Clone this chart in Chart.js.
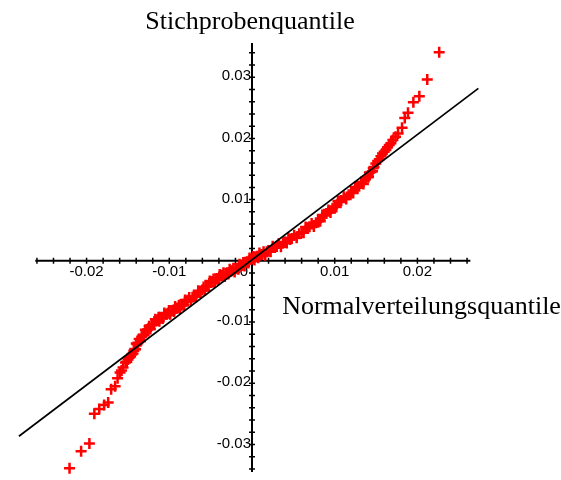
<!DOCTYPE html>
<html>
<head>
<meta charset="utf-8">
<script src="https://cdn.jsdelivr.net/npm/chart.js@4.4.0/dist/chart.umd.min.js"></script>
<style>
  body { margin: 0; background: #fff; }
</style>
</head>
<body>
<canvas id="qq" width="561" height="480"></canvas>
<script>
// Normalverteilungsquantile (x) und Stichprobenquantile (y)
const normalQuantiles = [
  -0.02206, -0.02066, -0.01966, -0.01906, -0.01847, -0.01787, -0.01739, -0.01703,
  -0.01655, -0.01625, -0.01595, -0.01559, -0.01529, -0.01499, -0.01469, -0.01439,
  -0.01418, -0.01399, -0.01379, -0.01349, -0.01319, -0.01289, -0.01259, -0.01229,
  -0.01199, -0.01169, -0.01139, -0.01120, -0.01100, -0.01060, -0.01019, -0.00989,
  -0.00959, -0.00929, -0.00899, -0.00869, -0.00839, -0.00809, -0.00779, -0.00739,
  -0.00699, -0.00650, -0.00600, -0.00570, -0.00540, -0.00510, -0.00480, -0.00450,
  -0.00420, -0.00390, -0.00360, -0.00330, -0.00300, -0.00270, -0.00240, -0.00210,
  -0.00180, -0.00150, -0.00120, -0.00090, -0.00060, -0.00030, 0.00000, 0.00030,
  0.00060, 0.00090, 0.00120, 0.00160, 0.00200, 0.00250, 0.00300, 0.00350,
  0.00400, 0.00440, 0.00480, 0.00540, 0.00600, 0.00648, 0.00695, 0.00748,
  0.00800, 0.00850, 0.00899, 0.00949, 0.00999, 0.01039, 0.01079, 0.01139,
  0.01199, 0.01247, 0.01295, 0.01347, 0.01399, 0.01419, 0.01439, 0.01457,
  0.01475, 0.01519, 0.01559, 0.01598, 0.01639, 0.01679,
  0.01703, 0.01735, 0.01766, 0.01814, 0.01847, 0.01886, 0.01951, 0.02023,
  0.02119, 0.02263,
  // denser middle part
  -0.01577, -0.01514, -0.01484, -0.01454, -0.01429,
  -0.01408, -0.01389, -0.01364, -0.01334, -0.01304, -0.01274, -0.01244, -0.01214,
  -0.01184, -0.01154, -0.01129, -0.01110, -0.01080, -0.01039, -0.01004, -0.00974,
  -0.00944, -0.00914, -0.00884, -0.00854, -0.00824, -0.00794, -0.00759, -0.00719,
  -0.00674, -0.00625, -0.00585, -0.00555, -0.00525, -0.00495, -0.00465, -0.00435,
  -0.00405, -0.00375, -0.00345, -0.00315, -0.00285, -0.00255, -0.00225, -0.00195,
  -0.00165, -0.00135, -0.00105, -0.00075, -0.00045, -0.00015, 0.00015, 0.00045,
  0.00075, 0.00105, 0.00140, 0.00180, 0.00225, 0.00275, 0.00325, 0.00375,
  0.00420, 0.00460, 0.00510, 0.00570, 0.00624, 0.00671, 0.00721, 0.00774,
  0.00825, 0.00874, 0.00924, 0.00974, 0.01019, 0.01059, 0.01109, 0.01169,
  0.01223, 0.01271, 0.01321, 0.01373, 0.01409, 0.01466,
  0.01497, 0.01539, 0.01578, 0.01619, 0.01659
];
const sampleQuantiles = [
  -0.03387, -0.03113, -0.02984, -0.02500, -0.02419, -0.02355, -0.02315, -0.02097,
  -0.02048, -0.01919, -0.01823, -0.01742, -0.01661, -0.01613, -0.01565, -0.01516,
  -0.01440, -0.01350, -0.01339, -0.01315, -0.01210, -0.01124, -0.01118, -0.01115,
  -0.01032, -0.00956, -0.00960, -0.00986, -0.00931, -0.00853, -0.00855, -0.00871,
  -0.00806, -0.00748, -0.00769, -0.00780, -0.00710, -0.00638, -0.00645, -0.00653,
  -0.00581, -0.00489, -0.00476, -0.00480, -0.00403, -0.00331, -0.00339, -0.00355,
  -0.00290, -0.00222, -0.00234, -0.00254, -0.00194, -0.00138, -0.00161, -0.00181,
  -0.00121, -0.00057, -0.00073, -0.00085, -0.00016, 0.00048, 0.00032, 0.00013,
  0.00073, 0.00129, 0.00105, 0.00093, 0.00161, 0.00238, 0.00234, 0.00230,
  0.00306, 0.00375, 0.00363, 0.00376, 0.00468, 0.00552, 0.00556, 0.00561,
  0.00645, 0.00750, 0.00774, 0.00791, 0.00887, 0.00976, 0.00984, 0.01009,
  0.01113, 0.01206, 0.01218, 0.01255, 0.01371, 0.01442, 0.01452, 0.01462,
  0.01532, 0.01629, 0.01710, 0.01782, 0.01855, 0.01919,
  0.01973, 0.02027, 0.02081, 0.02173, 0.02334, 0.02419, 0.02592, 0.02689,
  0.02963, 0.03408,
  // denser middle part
  -0.01790, -0.01650, -0.01580, -0.01530, -0.01470,
  -0.01445, -0.01364, -0.01277, -0.01242, -0.01217, -0.01141, -0.01067, -0.01054,
  -0.01044, -0.00978, -0.00923, -0.00938, -0.00942, -0.00874, -0.00813, -0.00818,
  -0.00827, -0.00778, -0.00724, -0.00725, -0.00724, -0.00661, -0.00599, -0.00597,
  -0.00585, -0.00502, -0.00428, -0.00421, -0.00417, -0.00355, -0.00297, -0.00302,
  -0.00306, -0.00248, -0.00194, -0.00204, -0.00216, -0.00169, -0.00121, -0.00131,
  -0.00139, -0.00085, -0.00029, -0.00030, -0.00034, 0.00020, 0.00072, 0.00063,
  0.00051, 0.00097, 0.00149, 0.00147, 0.00149, 0.00216, 0.00282, 0.00288,
  0.00290, 0.00349, 0.00419, 0.00442, 0.00460, 0.00534, 0.00608, 0.00623,
  0.00647, 0.00742, 0.00832, 0.00859, 0.00881, 0.00960, 0.01046, 0.01081,
  0.01109, 0.01192, 0.01286, 0.01333, 0.01371, 0.01512,
  0.01590, 0.01660, 0.01755, 0.01810, 0.01893
];

// fitted line end points
const lineX = [-0.02818, 0.02737];
const lineY = [-0.02866, 0.02818];

// axes (crossing at the origin)
const xAxisRange = [-0.0262, 0.0264];
const yAxisRange = [-0.0345, 0.0356];
const minorStep = 0.002;
const xTickValues = [-0.02, -0.01, 0, 0.01, 0.02];
const xTickLabels = ["-0.02", "-0.01", "0", "0.01", "0.02"];
const yTickValues = [-0.03, -0.02, -0.01, 0.01, 0.02, 0.03];
const yTickLabels = ["-0.03", "-0.02", "-0.01", "0.01", "0.02", "0.03"];

const xTitle = "Normalverteilungsquantile";
const yTitle = "Stichprobenquantile";

const points = normalQuantiles.map((x, i) => ({x: x, y: sampleQuantiles[i]}));
const fitLine = lineX.map((x, i) => ({x: x, y: lineY[i]}));

// draws the maple style axes through the origin
const originAxes = {
  id: "originAxes",
  beforeDatasetsDraw(chart) {
    const ctx = chart.ctx;
    const sx = chart.scales.x, sy = chart.scales.y;
    const x0 = sx.getPixelForValue(0), y0 = sy.getPixelForValue(0);
    ctx.save();
    ctx.strokeStyle = "#000";
    ctx.lineWidth = 2;
    ctx.beginPath();
    ctx.moveTo(sx.getPixelForValue(xAxisRange[0]), y0);
    ctx.lineTo(sx.getPixelForValue(xAxisRange[1]), y0);
    ctx.moveTo(x0, sy.getPixelForValue(yAxisRange[0]));
    ctx.lineTo(x0, sy.getPixelForValue(yAxisRange[1]));
    ctx.stroke();

    ctx.lineWidth = 1.5;
    ctx.beginPath();
    for (let k = Math.ceil(xAxisRange[0] / minorStep); k * minorStep <= xAxisRange[1]; k++) {
      if (k === 0) continue;
      const px = sx.getPixelForValue(k * minorStep);
      ctx.moveTo(px, y0 - 3);
      ctx.lineTo(px, y0 + 3);
    }
    for (let k = Math.ceil(yAxisRange[0] / minorStep); k * minorStep <= yAxisRange[1]; k++) {
      if (k === 0) continue;
      const py = sy.getPixelForValue(k * minorStep);
      ctx.moveTo(x0 - 3, py);
      ctx.lineTo(x0 + 3, py);
    }
    ctx.stroke();

    ctx.fillStyle = "#000";
    ctx.font = "15px 'Liberation Sans', Arial, sans-serif";
    ctx.textAlign = "center";
    ctx.textBaseline = "top";
    xTickValues.forEach((v, i) => {
      let px = sx.getPixelForValue(v);
      if (v === 0) px -= 8;
      ctx.fillText(xTickLabels[i], px, y0 + 4);
    });
    ctx.textAlign = "right";
    ctx.textBaseline = "middle";
    yTickValues.forEach((v, i) => {
      ctx.fillText(yTickLabels[i], x0 - 1, sy.getPixelForValue(v) - 1);
    });

    ctx.font = "26px 'Liberation Serif', 'Times New Roman', serif";
    ctx.textBaseline = "alphabetic";
    ctx.textAlign = "center";
    ctx.fillText(yTitle, x0 - 2, 29);
    ctx.textAlign = "left";
    ctx.fillText(xTitle, sx.getPixelForValue(0.00365), y0 + 53);
    ctx.restore();
  }
};

new Chart(document.getElementById("qq"), {
  type: "scatter",
  data: {
    datasets: [
      {
        label: "Gerade",
        type: "line",
        data: fitLine,
        borderColor: "#000",
        borderWidth: 1.7,
        pointRadius: 0,
        fill: false,
        order: 0,
        clip: false
      },
      {
        label: "QQ",
        data: points,
        pointStyle: "cross",
        pointRadius: 5.5,
        borderColor: "#ff0000",
        backgroundColor: "#ff0000",
        pointBorderWidth: 2.5,
        order: 1,
        clip: false
      }
    ]
  },
  options: {
    responsive: false,
    animation: false,
    layout: { padding: { left: 4, right: 65, top: 16, bottom: 2 } },
    plugins: { legend: { display: false }, tooltip: { enabled: false } },
    scales: {
      x: { type: "linear", min: -0.0295, max: 0.0295, display: false },
      y: { type: "linear", min: -0.0345, max: 0.04, display: false }
    }
  },
  plugins: [originAxes]
});
</script>
</body>
</html>
